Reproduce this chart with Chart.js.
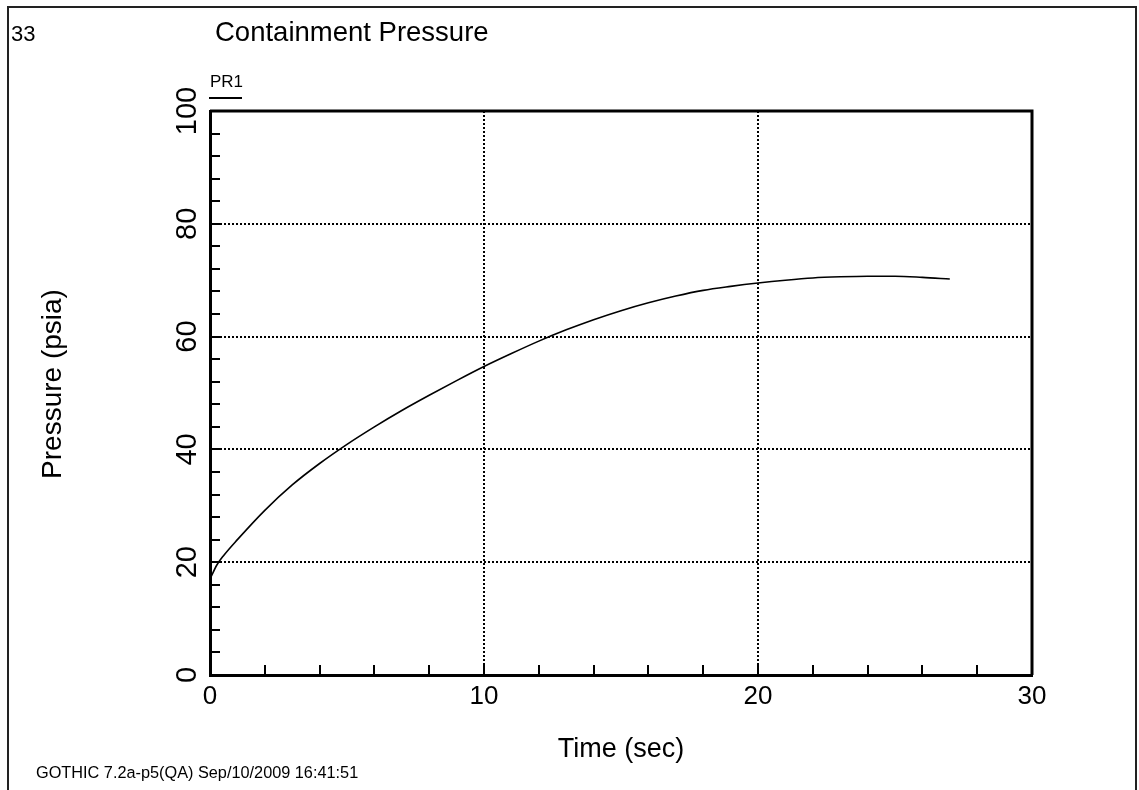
<!DOCTYPE html>
<html>
<head>
<meta charset="utf-8">
<script src="https://cdn.jsdelivr.net/npm/chart.js@4/dist/chart.umd.min.js"></script>
<style>
  body { margin: 0; background: #fff; }
  canvas { display: block; }
</style>
</head>
<body>
<canvas id="chartLine" width="1139" height="790"></canvas>
<script>
// PR1 - containment pressure vs time
const times = [0, 0.25, 0.5, 1, 2, 3, 4, 5, 6, 7, 8, 9, 10, 11, 12, 13, 14, 15, 16, 17, 18, 19, 20, 21, 22, 23, 24, 25, 26, 27];
const pressure = [17.0, 19.5, 21.2, 24.0, 29.2, 33.7, 37.5, 40.9, 44.0, 46.9, 49.6, 52.2, 54.7, 57.0, 59.2, 61.2, 63.0, 64.6, 66.0, 67.2, 68.2, 68.9, 69.5, 70.0, 70.4, 70.6, 70.7, 70.7, 70.5, 70.2];
const xLabels = [0, 10, 20, 30];
const yLabels = [0, 20, 40, 60, 80, 100];
const xGrid = [10, 20];
const yGrid = [20, 40, 60, 80];

const FONT = "'Liberation Sans', Arial, sans-serif";

const extras = {
  id: "extras",
  afterDraw(chart) {
    const { ctx, chartArea } = chart;
    const yScale = chart.scales.y;
    ctx.save();
    // page frame
    ctx.strokeStyle = "#222";
    ctx.lineWidth = 2;
    ctx.strokeRect(8, 7, 1128, 820);
    // top + right sides of the plot box
    ctx.strokeStyle = "#000";
    ctx.lineWidth = 3;
    ctx.beginPath();
    ctx.moveTo(chartArea.left, chartArea.top);
    ctx.lineTo(chartArea.right, chartArea.top);
    ctx.lineTo(chartArea.right, chartArea.bottom);
    ctx.stroke();

    ctx.fillStyle = "#000";
    ctx.textBaseline = "alphabetic";
    ctx.textAlign = "left";
    ctx.font = "22px " + FONT;
    ctx.fillText("33", 11, 41);
    ctx.font = "27.5px " + FONT;
    ctx.fillText("Containment Pressure", 215, 41);
    ctx.font = "17px " + FONT;
    ctx.fillText("PR1", 210, 87);
    ctx.lineWidth = 2;
    ctx.beginPath();
    ctx.moveTo(209, 98);
    ctx.lineTo(242, 98);
    ctx.stroke();
    ctx.font = "16.3px " + FONT;
    ctx.fillText("GOTHIC 7.2a-p5(QA) Sep/10/2009 16:41:51", 36, 778);

    ctx.textAlign = "center";
    ctx.textBaseline = "middle";
    // rotated y tick labels
    ctx.font = "29px " + FONT;
    yLabels.forEach((v) => {
      ctx.save();
      ctx.translate(188, yScale.getPixelForValue(v));
      ctx.rotate(-Math.PI / 2);
      ctx.fillText(String(v), 0, 0);
      ctx.restore();
    });
    // y axis title
    ctx.font = "28px " + FONT;
    ctx.translate(53, 384);
    ctx.rotate(-Math.PI / 2);
    ctx.fillText("Pressure (psia)", 0, 0);
    ctx.restore();
  },
};

new Chart(document.getElementById("chartLine").getContext("2d"), {
  type: "line",
  data: {
    datasets: [
      {
        label: "PR1",
        data: times.map((t, i) => ({ x: t, y: pressure[i] })),
        borderColor: "#000",
        borderWidth: 1.6,
        pointRadius: 0,
        fill: false,
        cubicInterpolationMode: "monotone",
      },
    ],
  },
  options: {
    responsive: false,
    animation: false,
    layout: { padding: { left: 0, top: 111, right: 107, bottom: 0 } },
    plugins: { legend: { display: false }, title: { display: false }, tooltip: { enabled: false } },
    scales: {
      x: {
        type: "linear",
        min: 0,
        max: 30,
        afterFit: (s) => { s.height = 115; },
        ticks: {
          stepSize: 2,
          autoSkip: false,
          maxRotation: 0,
          padding: 16,
          color: "#000",
          font: { family: FONT, size: 26 },
          callback: (v) => (xLabels.includes(v) ? String(v) : ""),
        },
        grid: {
          color: (c) => (c.tick && xGrid.includes(c.tick.value) ? "#000" : "transparent"),
          lineWidth: 2,
          tickColor: "#000",
          tickWidth: 2,
          tickLength: -10,
        },
        border: { color: "#000", width: 3, dash: [2, 2] },
        title: {
          display: true,
          text: "Time (sec)",
          color: "#000",
          font: { family: FONT, size: 27 },
          padding: { top: 0, bottom: 24 },
        },
      },
      y: {
        type: "linear",
        min: 0,
        max: 100,
        afterFit: (s) => { s.width = 210; },
        ticks: { stepSize: 4, autoSkip: false, display: false },
        grid: {
          color: (c) => (c.tick && yGrid.includes(c.tick.value) ? "#000" : "transparent"),
          lineWidth: 2,
          tickColor: "#000",
          tickWidth: 2,
          tickLength: -10,
        },
        border: { color: "#000", width: 3, dash: [2, 2] },
      },
    },
  },
  plugins: [extras],
});
</script>
</body>
</html>
